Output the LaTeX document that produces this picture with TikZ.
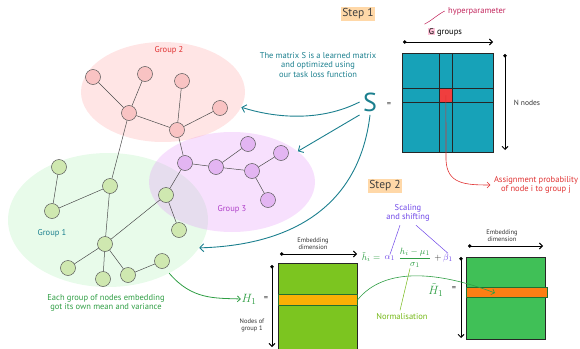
\documentclass[tikz,border=0pt]{standalone}
\usepackage{fontspec}
\setmainfont{PT Sans}
\usetikzlibrary{arrows.meta,shapes.geometric}

\definecolor{tealtext}{HTML}{1B7F8E}
\definecolor{matteal}{HTML}{17A2B8}
\definecolor{cellred}{HTML}{F03E3E}
\definecolor{hyperred}{HTML}{C2255C}
\definecolor{hlpink}{HTML}{FCC2D7}
\definecolor{assignred}{HTML}{E03131}
\definecolor{pinkarea}{HTML}{FFA8A8}
\definecolor{purplearea}{HTML}{E599F7}
\definecolor{greenarea}{HTML}{B2F2BB}
\definecolor{pinknode}{HTML}{F9C3C3}
\definecolor{greennode}{HTML}{CFE8B0}
\definecolor{purplenode}{HTML}{E3B5F2}
\definecolor{grpgreen}{HTML}{2F9E44}
\definecolor{grpviolet}{HTML}{AE3EC9}
\definecolor{limefill}{HTML}{7CC520}
\definecolor{emeraldfill}{HTML}{40C057}
\definecolor{bandyellow}{HTML}{FAB005}
\definecolor{bandorange}{HTML}{FD7E14}
\definecolor{stepbg}{HTML}{FFD8A8}
\definecolor{scaleviolet}{HTML}{7048E8}
\definecolor{normgreen}{HTML}{74B816}

\begin{document}
\begin{tikzpicture}[x=1pt,y=-1pt,
    every node/.style={font=\fontsize{8.5}{9.5}\selectfont},
    grparea/.style={ellipse, inner sep=0pt, fill opacity=0.3},
    gnode/.style={circle, draw=black!65, line width=0.5pt, minimum size=15pt, inner sep=0pt},
    link/.style={draw=black!70, line width=0.5pt},
    steplbl/.style={fill=stepbg, inner sep=1.5pt, text=black!75, font=\fontsize{11.5}{12}\selectfont},
    tinytxt/.style={font=\fontsize{6.5}{7}\selectfont, align=center, text=black!80},
    mathtxt/.style={inner sep=0.5pt, font=\fontsize{9.5}{10}\selectfont},
    matbox/.style={draw=black!85, line width=1pt, inner sep=0pt, anchor=north west},
    dimarrow/.style={line width=0.9pt, {Circle[length=3.5pt]}-{Straight Barb[length=3pt,width=6pt]}},
    tealarrow/.style={tealtext, line width=0.9pt, -{Straight Barb[length=4pt,width=8pt]}},
    gridline/.style={line width=0.8pt, black!85}]

    \useasboundingbox (0,0) rectangle (580,348);

    % The three groups
    \node [grparea, fill=greenarea, minimum width=200pt, minimum height=134pt] (area1) at (108,220) {};
    \node [grparea, fill=purplearea, minimum width=166pt, minimum height=100pt] (area3) at (232,182) {};
    \node [grparea, fill=pinkarea, minimum width=164pt, minimum height=100pt] (area2) at (163,92) {};

    \node [text=tealtext] (lbl1) at (52,233) {Group 1};
    \node [text=assignred] (lbl2) at (169,50) {Group 2};
    \node [text=grpviolet] (lbl3) at (232,209) {Group 3};

    % Graph nodes
    \foreach \n/\x/\y in {p1/93/77, p2/145/74, p3/182/81, p4/220/108, p5/129/113, p6/177/130}
	\node [gnode, fill=pinknode] (\n) at (\x,\y) {};
    \foreach \n/\x/\y in {q1/185/163, q2/216/167, q3/248/144, q4/252/171, q5/281/153, q6/268/200}
	\node [gnode, fill=purplenode] (\n) at (\x,\y) {};
    \foreach \n/\x/\y in {g1/59/167, g2/52/211, g3/110/186, g4/166/195, g5/179/230,
	g6/105/244, g7/68/268, g8/103/279, g9/128/275, g10/162/261}
	\node [gnode, fill=greennode] (\n) at (\x,\y) {};

    % And the edges between them
    \foreach \a/\b in {p1/p5, p2/p5, p5/p6, p3/p6, p4/p6, p5/g3, p6/q1,
	q1/q2, q2/q3, q2/q4, q4/q5, q4/q6, q1/g4,
	g1/g2, g2/g3, g3/g6, g6/g4, g4/g5, g6/g7, g6/g8, g6/g9, g9/g10}
	\draw [link] (\a) -- (\b);

    % Step 1: the assignment matrix
    \node [steplbl] (step1) at (358,14) {Step 1};

    \node [text=tealtext, align=center] (matrixtxt) at (318,65)
	{The matrix S is a learned matrix\\and optimized using\\our task loss function};

    \node [text=tealtext, font=\fontsize{26}{26}\selectfont] (sym) at (370,102) {S};
    \node [text=black!80] (symeq) at (389,105) {=};

    \node [matbox, fill=matteal, minimum width=91pt, minimum height=99pt] (smat) at (402,53) {};
    \draw [gridline] (439,53) -- (439,152);
    \draw [gridline] (452,53) -- (452,152);
    \draw [gridline] (402,88) -- (493,88);
    \draw [gridline] (402,102) -- (493,102);
    \node [matbox, fill=cellred, minimum width=13pt, minimum height=14pt, line width=0.8pt] (cell) at (439,88) {};

    \coordinate (top left)     at (403,42);
    \coordinate (top right)    at (493,42);
    \coordinate (right top)    at (505,54);
    \coordinate (right bottom) at (505,150);
    \draw [dimarrow] (top left) -- (top right);
    \draw [dimarrow] (right top) -- (right bottom);

    \node (ggroups) at (445,32) {\setlength\fboxsep{0.8pt}\colorbox{hlpink}{G} groups};
    \node [text=hyperred] (hyper) at (477,11) {hyperparameter};
    \draw [hyperred, line width=0.5pt] (hyper.west) .. controls (437,15) and (431,21) .. (ggroups.north west);
    \node [text=black!80, font=\fontsize{7.5}{8}\selectfont] (nnodes) at (527,103) {N nodes};

    \node [text=assignred, align=center] (assign) at (536,185)
	{Assignment probability\\of node i to group j};
    \draw [assignred, line width=0.6pt, -{Straight Barb[length=3pt,width=6pt]}]
	(cell.center) -- (446,160) .. controls (447,184) and (465,185) .. (assign.west);

    % S points back to the groups
    \draw [tealarrow] (sym.west) .. controls (320,122) and (275,118) .. (area2.-11);
    \draw [tealarrow] (sym.south west) -- (area3.25);
    \draw [tealarrow] (sym.south) .. controls (360,200) and (300,245) .. (area1.-17);

    % Step 2: normalising each group
    \node [steplbl] (step2) at (385,186) {Step 2};

    \node [text=grpgreen, align=center] (eachgrp) at (106,303)
	{Each group of nodes embedding\\got its own mean and variance};

    % left matrix
    \node [matbox, fill=limefill, minimum width=79pt, minimum height=86pt] (hmat) at (278,263) {};
    \node [matbox, fill=bandyellow, draw=grpgreen!70!black, line width=0.6pt,
	minimum width=79pt, minimum height=11pt] (hband) at (278,294) {};
    \coordinate (h top left)    at (280,254);
    \coordinate (h top right)   at (357,254);
    \coordinate (h left top)    at (272,265);
    \coordinate (h left bottom) at (272,347);
    \draw [dimarrow] (h top left) -- (h top right);
    \draw [dimarrow] (h left top) -- (h left bottom);
    \node [tinytxt] (embA) at (313,244) {Embedding\\dimension};
    \node [text=grpgreen, mathtxt, font=\fontsize{13}{13}\selectfont] (hlbl) at (249,299) {$H_1$};
    \node [text=black!80] (heq) at (266,299) {=};
    \node [tinytxt] (nodesof) at (252,325) {Nodes of\\group 1};

    \draw [grpgreen, line width=0.8pt, -{Straight Barb[length=3pt,width=6pt]}]
	(area1.-41) .. controls (192,300) and (215,298) .. (hlbl.west);

    % the formula
    \node [text=scaleviolet, align=center] (scaling) at (408,213) {Scaling\\and shifting};
    \node [text=grpgreen, mathtxt, anchor=east] (hti) at (381,257) {$\tilde{h}_i =$};
    \node [text=scaleviolet, mathtxt, anchor=west] (alpha) at (384,258) {$\alpha_1$};
    \node [text=grpgreen, mathtxt] (frac) at (415,258) {$\displaystyle\frac{h_i - \mu_1}{\sigma_1}$};
    \node [text=black!80, mathtxt] (plus) at (438,258) {$+$};
    \node [text=scaleviolet, mathtxt] (beta) at (448,258) {$\beta_1$};
    \draw [scaleviolet, line width=0.5pt] ([xshift=-8pt]scaling.south) -- (alpha.north);
    \draw [scaleviolet, line width=0.5pt] ([xshift=8pt]scaling.south) -- (beta.north);
    \node [text=normgreen] (norm) at (402,317) {Normalisation};
    \draw [normgreen, line width=0.5pt] ([xshift=-5pt]frac.south) -- ([xshift=-2pt]norm.north);

    % right matrix
    \node [matbox, fill=emeraldfill, minimum width=79pt, minimum height=82pt] (htmat) at (466,257) {};
    \node [matbox, fill=bandorange, draw=grpgreen!70!black, line width=0.6pt,
	minimum width=81pt, minimum height=10pt] (htband) at (466,287) {};
    \coordinate (ht top left)    at (468,246);
    \coordinate (ht top right)   at (543,246);
    \coordinate (ht left top)    at (461,257);
    \coordinate (ht left bottom) at (461,338);
    \draw [dimarrow] (ht top left) -- (ht top right);
    \draw [dimarrow] (ht left top) -- (ht left bottom);
    \node [tinytxt] (embB) at (502,236) {Embedding\\dimension};
    \node [text=grpgreen, mathtxt, font=\fontsize{13}{13}\selectfont, anchor=east] (htlbl) at (444,290) {$\tilde{H}_1$};
    \node [text=black!80, inner sep=0.5pt] (hteq) at (454,289) {=};

    % the band is carried over
    \coordinate (band target) at (495,293);
    \draw [grpgreen, line width=0.6pt, -{Straight Barb[length=3pt,width=6pt]}]
	(hband.east) .. controls (385,266) and (440,272) .. (band target);
\end{tikzpicture}
\end{document}
